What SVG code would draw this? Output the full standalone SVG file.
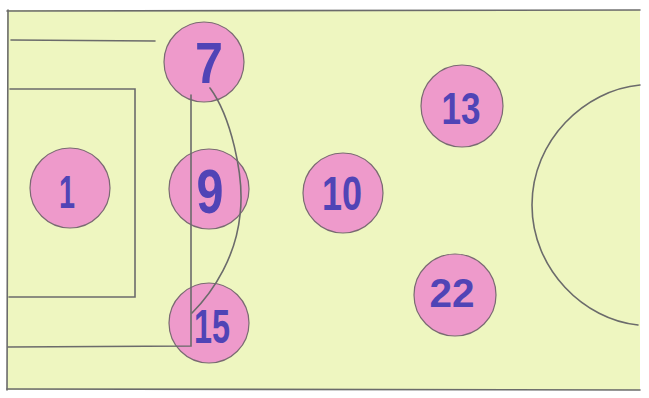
<svg xmlns="http://www.w3.org/2000/svg" width="649" height="398" viewBox="0 0 649 398">
<style>
.line{fill:none;stroke:#6b6b6b;stroke-width:1.6;stroke-linecap:round}
.player circle{fill:#ee9acb;stroke:#7a6a72;stroke-width:1.2}
.player text{font-family:"Liberation Sans",Arial,sans-serif;font-weight:bold;fill:#5044b6;text-anchor:middle;lengthAdjust:spacingAndGlyphs}
</style>
<rect width="649" height="398" fill="#ffffff"/>
<rect x="7" y="10" width="633" height="380" fill="#eef6c0"/>
<g id="p7" class="player"><circle cx="204" cy="62" r="40"/><text x="209" y="83" font-size="57" textLength="28" lengthAdjust="spacingAndGlyphs">7</text></g>
<g id="p1" class="player"><circle cx="70" cy="188" r="40"/><text x="67" y="208" font-size="46" textLength="16" lengthAdjust="spacingAndGlyphs">1</text></g>
<g id="p9" class="player"><circle cx="209" cy="189" r="40"/><text x="210" y="213" font-size="63" textLength="27" lengthAdjust="spacingAndGlyphs">9</text></g>
<g id="p15" class="player"><circle cx="209" cy="323" r="40"/><text x="212" y="343" font-size="49" textLength="36" lengthAdjust="spacingAndGlyphs">15</text></g>
<g id="p10" class="player"><circle cx="343" cy="193" r="40"/><text x="342" y="210" font-size="48" textLength="40" lengthAdjust="spacingAndGlyphs">10</text></g>
<g id="p13" class="player"><circle cx="462" cy="106" r="41"/><text x="461" y="124" font-size="45" textLength="39" lengthAdjust="spacingAndGlyphs">13</text></g>
<g id="p22" class="player"><circle cx="455" cy="295" r="41"/><text x="452" y="307" font-size="40" textLength="45" lengthAdjust="spacingAndGlyphs">22</text></g>
<g id="connectors">
<path class="line" d="M7,11 L640,10"/>
<path class="line" d="M7,389 L640,390"/>
<path class="line" d="M8,10 L7,390"/>
<path class="line" d="M11,40 L155,41"/>
<path class="line" d="M191,95 L191,346 L8,347"/>
<path class="line" d="M10,89 L135,89 L135,297 L9,297"/>
<path class="line" d="M210,88 C230,115 245,175 240,215 C236,255 215,290 192,313"/>
<path class="line" d="M640,85 C585,90 532,140 532,205 C532,270 585,320 638,325"/>
</g>
</svg>
